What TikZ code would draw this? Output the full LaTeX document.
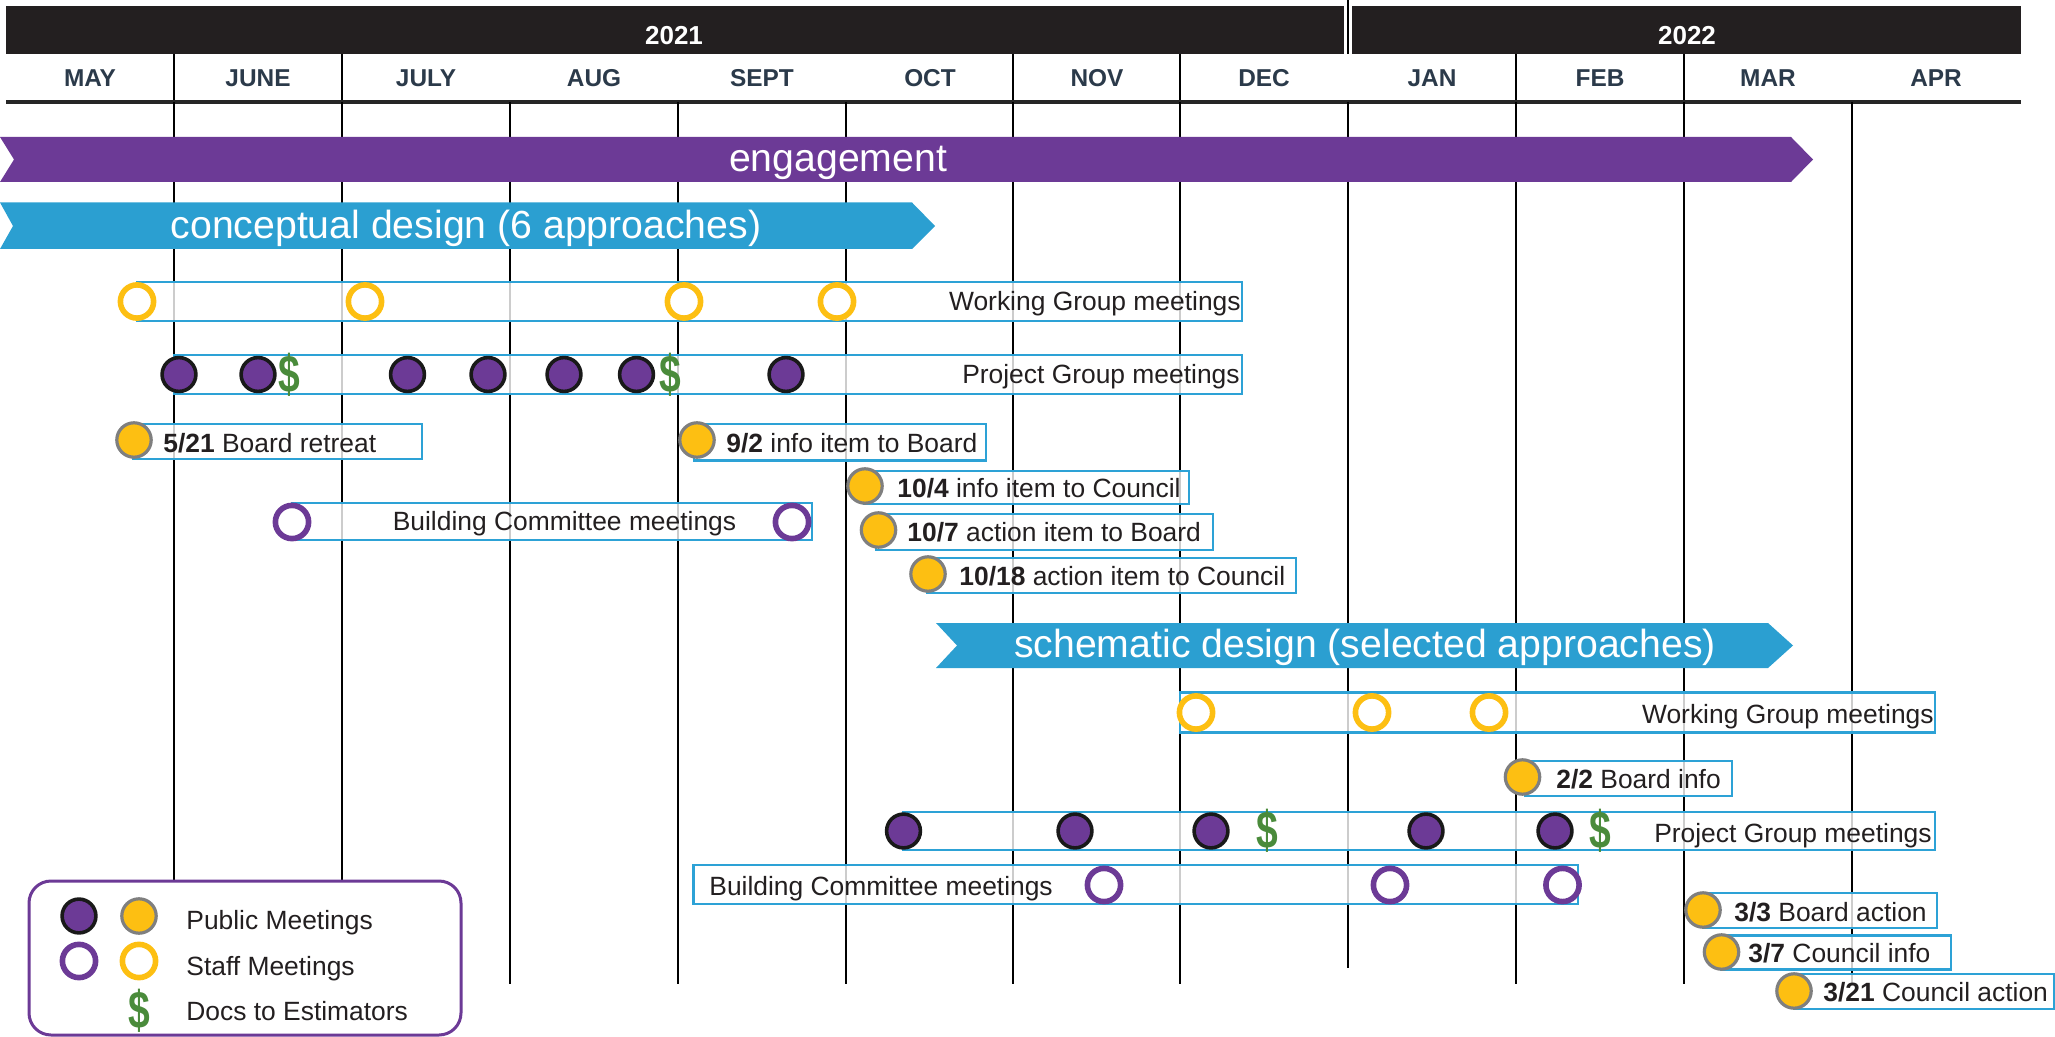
\documentclass[tikz,border=0pt]{standalone}
\usepackage{fontspec}
\setmainfont{Liberation Sans}
\definecolor{hdrdark}{HTML}{231F20}
\definecolor{monthink}{HTML}{2B3A4A}
\definecolor{inkdark}{HTML}{231F20}
\definecolor{plum}{HTML}{6C3A96}
\definecolor{skyblue}{HTML}{2B9FD1}
\definecolor{boxblue}{HTML}{2DA2D6}
\definecolor{gold}{HTML}{FDBF12}
\definecolor{ringgrey}{HTML}{7F7F7F}
\definecolor{cashgreen}{HTML}{4A8B3B}
\newcommand{\cash}{\scalebox{0.78}[1.06]{\$}}
\begin{document}
\begin{tikzpicture}[x=0.5pt,y=-0.5pt,
  gridln/.style={draw=black,line width=0.8pt},
  evbox/.style={draw=boxblue,line width=1.4pt,fill=white,fill opacity=0.8},
  pubpurple/.style={circle,inner sep=0pt,minimum size=16.9pt,fill=plum,draw=black!90,line width=1.8pt},
  pubyellow/.style={circle,inner sep=0pt,minimum size=17.2pt,fill=gold,draw=ringgrey,line width=1.6pt},
  staffpurple/.style={circle,inner sep=0pt,minimum size=16.6pt,fill=white,draw=plum,line width=2.8pt},
  staffyellow/.style={circle,inner sep=0pt,minimum size=16.6pt,fill=white,draw=gold,line width=2.8pt},
  dollarsign/.style={inner sep=0pt,text=cashgreen,font=\fontsize{25}{25}\selectfont\bfseries},
  lbl/.style={inner sep=0pt,text=inkdark,font=\fontsize{13.2}{14}\selectfont},
  monthlbl/.style={inner sep=0pt,anchor=base,text=monthink,font=\fontsize{12.2}{13}\selectfont\bfseries},
  yearlbl/.style={inner sep=0pt,anchor=base,text=white,font=\fontsize{13}{14}\selectfont\bfseries},
  bartext/.style={inner sep=0pt,anchor=base,text=white,font=\fontsize{19.6}{20}\selectfont},
]
\useasboundingbox (0,0) rectangle (2055,1037);

% ---------- header: years and months ----------
\fill[hdrdark] (6,6) rectangle (1344,54);
\fill[hdrdark] (1352,6) rectangle (2021,54);
\draw[black,line width=0.6pt] (1348,0) -- (1348,54);
\node[yearlbl] (y2021) at (674,45) {2021};
\node[yearlbl] (y2022) at (1687,45) {2022};

\foreach \xm/\mname in {90/MAY,258/JUNE,426/JULY,594/AUG,762/SEPT,930/OCT,
    1097/NOV,1264/DEC,1432/JAN,1600/FEB,1768/MAR,1936/APR}
  \node[monthlbl] (m\mname) at (\xm,86.5) {\mname};

\foreach \xd in {174,342,1013,1180,1516,1684}
  \draw[gridln] (\xd,54) -- (\xd,102);
\draw[draw=black!85,line width=1.6pt] (6,102) -- (2021,102);

% ---------- month grid ----------
\foreach \xd in {174,342,510,678,846,1013,1180,1516,1684,1852}
  \draw[gridln] (\xd,102) -- (\xd,984);
\draw[gridln] (1348,102) -- (1348,968);

% ---------- phase bars ----------
\fill[plum] (0,137) -- (1791,137) -- (1813,159.5) -- (1791,182) -- (0,182) -- (14,159.5) -- cycle;
\node[bartext] (engage) at (838,172) {engagement};

\fill[skyblue] (0,202.5) -- (912,202.5) -- (935,226) -- (912,249) -- (0,249) -- (13,226) -- cycle;
\node[bartext] (concept) at (466,239) {conceptual design (6 approaches)};

\fill[skyblue] (936,623) -- (1768,623) -- (1793,645.5) -- (1768,668) -- (936,668) -- (957,645.5) -- cycle;
\node[bartext] (schema) at (1365,657) {schematic design (selected approaches)};

% ---------- conceptual design events ----------
\draw[evbox] (137,282) rectangle (1242,321);
\foreach \xc [count=\i] in {137,365,684,837}
  \node[staffyellow] (wga\i) at (\xc,301.5) {};
\node[lbl,anchor=base east] (wgatxt) at (1241,311) {Working Group meetings};

\draw[evbox] (174,355) rectangle (1242,394);
\foreach \xc [count=\i] in {179,258,407.5,488,564,636.5,786}
  \node[pubpurple] (pga\i) at (\xc,374.5) {};
\node[dollarsign] (pgad1) at (289,374.5) {\cash};
\node[dollarsign] (pgad2) at (670,374.5) {\cash};
\node[lbl,anchor=base east] (pgatxt) at (1240,384) {Project Group meetings};

\draw[evbox] (133,424) rectangle (422,459);
\node[pubyellow] (e521) at (134,440) {};
\node[lbl,anchor=base west] (t521) at (163,452) {\textbf{5/21} Board retreat};

\draw[evbox] (694,424) rectangle (986,460.5);
\node[pubyellow] (e92) at (697,440) {};
\node[lbl,anchor=base west] (t92) at (726,452) {\textbf{9/2} info item to Board};

\draw[evbox] (864,471) rectangle (1189,504);
\node[pubyellow] (e104) at (865,486) {};
\node[lbl,anchor=base west] (t104) at (897,497) {\textbf{10/4} info item to Council};

\draw[evbox] (876,514) rectangle (1213,550);
\node[pubyellow] (e107) at (878.5,530) {};
\node[lbl,anchor=base west] (t107) at (907,541) {\textbf{10/7} action item to Board};

\draw[evbox] (927,558) rectangle (1296,593);
\node[pubyellow] (e1018) at (928,574) {};
\node[lbl,anchor=base west] (t1018) at (959,585) {\textbf{10/18} action item to Council};

\draw[evbox] (292,503) rectangle (812,540);
\node[staffpurple] (bca1) at (292,522) {};
\node[staffpurple] (bca2) at (792,522) {};
\node[lbl,anchor=base] (bcatxt) at (564.5,530) {Building Committee meetings};

% ---------- schematic design events ----------
\draw[evbox] (1180,692.5) rectangle (1935,732.5);
\foreach \xc [count=\i] in {1196,1372,1489}
  \node[staffyellow] (wgb\i) at (\xc,712.5) {};
\node[lbl,anchor=base east] (wgbtxt) at (1934,723) {Working Group meetings};

\draw[evbox] (1525,761) rectangle (1732,796);
\node[pubyellow] (e22) at (1522.5,777) {};
\node[lbl,anchor=base west] (t22) at (1556,788) {\textbf{2/2} Board info};

\draw[evbox] (903,812) rectangle (1935,850);
\foreach \xc [count=\i] in {903.5,1075,1211,1426,1555}
  \node[pubpurple] (pgb\i) at (\xc,831) {};
\node[dollarsign] (pgbd1) at (1267,831) {\cash};
\node[dollarsign] (pgbd2) at (1600,831) {\cash};
\node[lbl,anchor=base east] (pgbtxt) at (1932,842) {Project Group meetings};

\draw[evbox] (693.5,865) rectangle (1578,904);
\foreach \xc [count=\i] in {1104,1390,1562.5}
  \node[staffpurple] (bcb\i) at (\xc,885) {};
\node[lbl,anchor=base west] (bcbtxt) at (709,895) {Building Committee meetings};

\draw[evbox] (1703,893) rectangle (1937,928);
\node[pubyellow] (e33) at (1703,910) {};
\node[lbl,anchor=base west] (t33) at (1734,921.5) {\textbf{3/3} Board action};

\draw[evbox] (1721.5,935.5) rectangle (1951,969.5);
\node[pubyellow] (e37) at (1721.5,952) {};
\node[lbl,anchor=base west] (t37) at (1748,962.5) {\textbf{3/7} Council info};

\draw[evbox] (1794,974) rectangle (2054,1009);
\node[pubyellow] (e321) at (1794,991) {};
\node[lbl,anchor=base west] (t321) at (1823,1001.5) {\textbf{3/21} Council action};

% ---------- legend ----------
\draw[draw=plum,line width=1.5pt,fill=white,rounded corners=11pt] (29,881) rectangle (461,1035);
\node[pubpurple] (lgpp) at (79,916) {};
\node[pubyellow] (lgpy) at (139,916) {};
\node[lbl,anchor=base west] (lgpub) at (186,929) {Public Meetings};
\node[staffpurple] (lgsp) at (79,961) {};
\node[staffyellow] (lgsy) at (139,961) {};
\node[lbl,anchor=base west] (lgstaff) at (186,975) {Staff Meetings};
\node[dollarsign] (lgd) at (139,1011) {\cash};
\node[lbl,anchor=base west] (lgdocs) at (186,1020) {Docs to Estimators};
\end{tikzpicture}
\end{document}
